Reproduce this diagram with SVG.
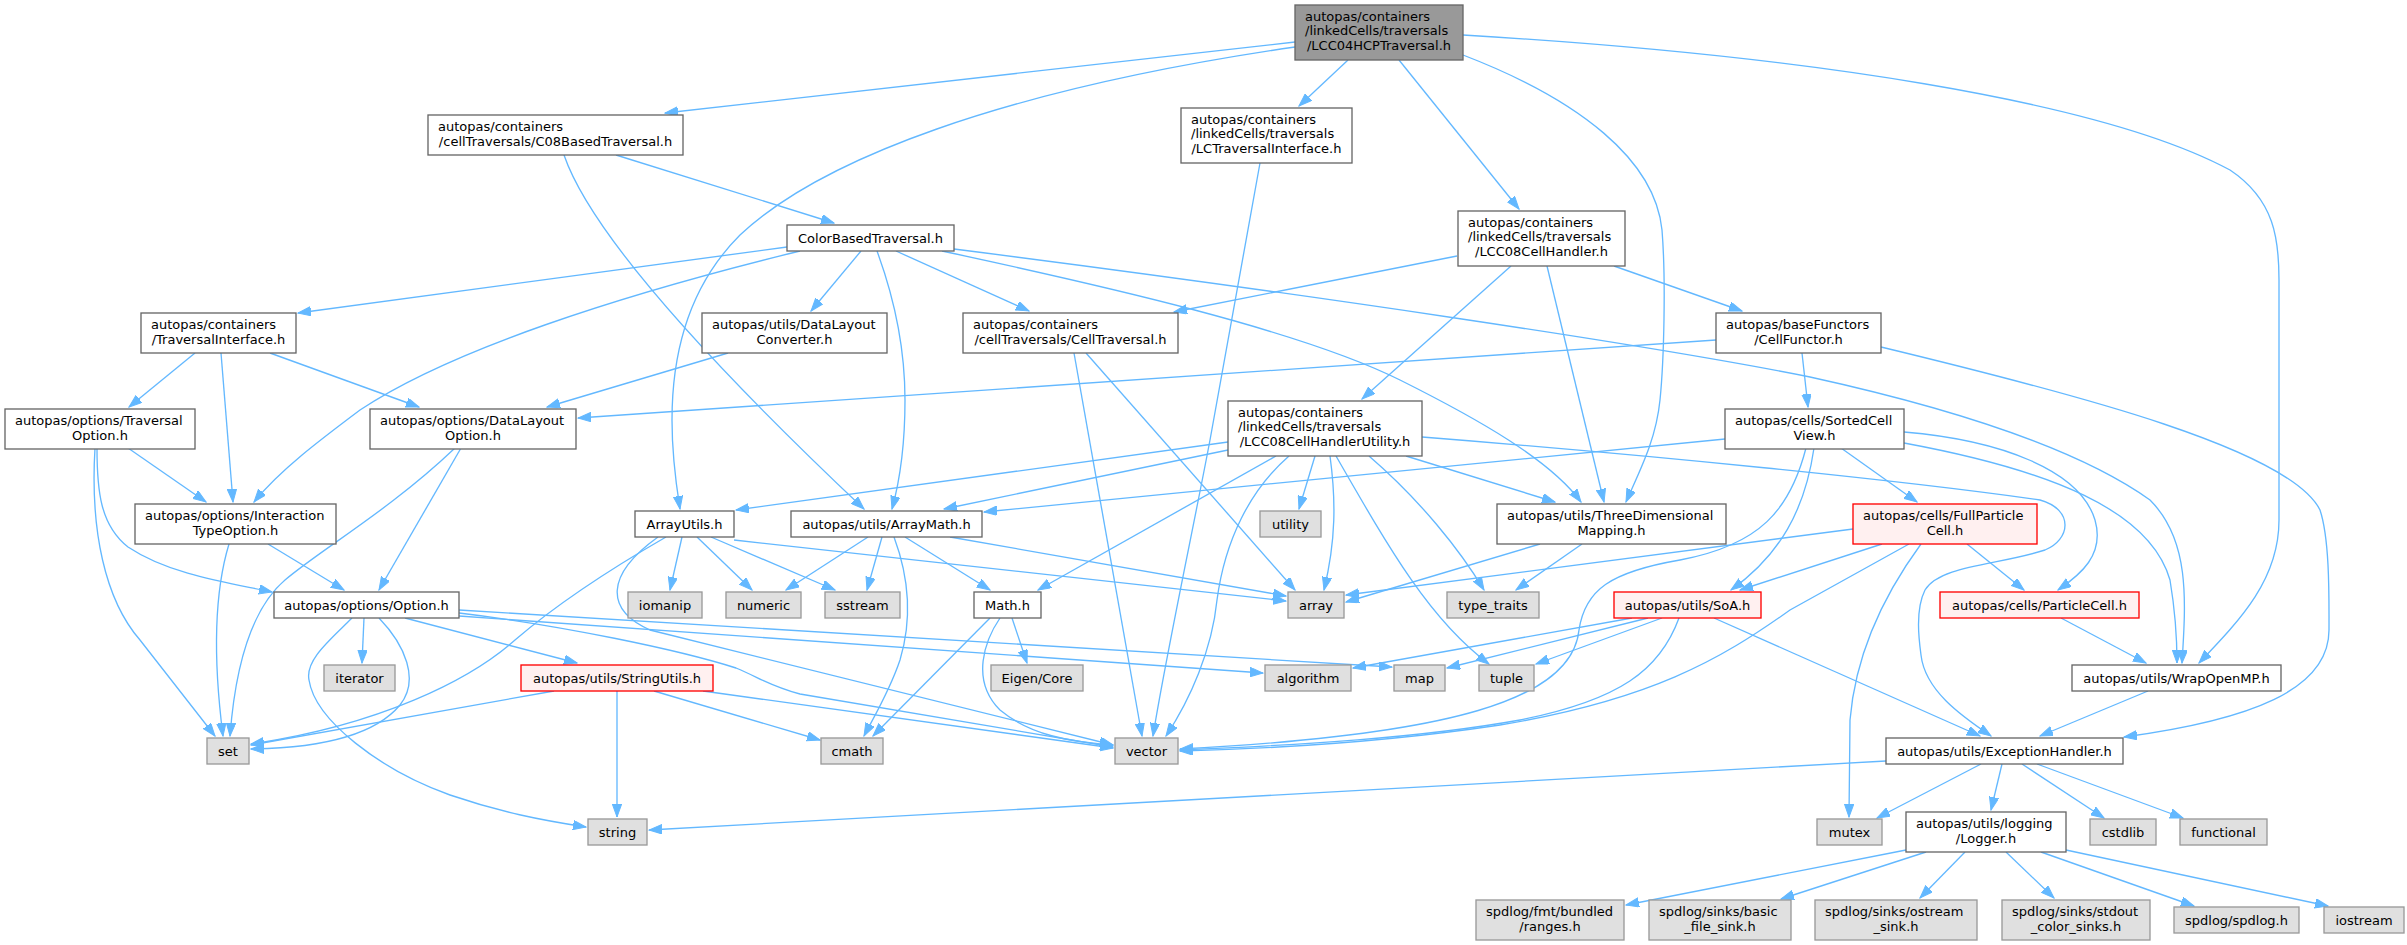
<svg xmlns="http://www.w3.org/2000/svg" width="2407" height="945" viewBox="0 0 2407 945">
<style>
rect{stroke-width:1.33}
.n rect{fill:#ffffff;stroke:#666666}
.x rect{fill:#e0e0e0;stroke:#999999}
.r rect{fill:#fff0f0;stroke:#ff0000}
.m rect{fill:#999999;stroke:#666666}
text{font-family:"DejaVu Sans","Noto Sans",sans-serif;font-size:13px;fill:#000000}
.c{text-anchor:middle}
#edges path{fill:none;stroke:#63b8ff;stroke-width:1.33;marker-end:url(#a)}
</style>
<defs>
<marker id="a" markerUnits="userSpaceOnUse" markerWidth="14" markerHeight="10" refX="13" refY="4.7" orient="auto">
<path d="M0,0 L13,4.7 L0,9.4 z" fill="#63b8ff" stroke="#63b8ff" stroke-width="1"/>
</marker>
</defs>
<rect x="0" y="0" width="2407" height="945" fill="#ffffff"/>
<g id="edges">
<path d="M1295,42 L665,113"/>
<path d="M1295,47 C1000,90 820,160 740,235 C690,285 672,350 672,420 C672,460 677,490 680,509"/>
<path d="M1348,60 L1299,106"/>
<path d="M1399,60 L1519,209"/>
<path d="M1463,55 C1580,100 1655,160 1662,230 C1666,280 1664,360 1660,400 C1656,440 1640,470 1626,502"/>
<path d="M1463,35 C1800,55 2100,100 2230,170 C2275,200 2279,240 2279,280 L2279,520 C2279,580 2240,620 2199,663"/>
<path d="M616,155 L834,223"/>
<path d="M564,155 Q600,260 864,509"/>
<path d="M787,247 L298,313"/>
<path d="M800,251 C620,295 450,350 360,410 C320,440 280,470 254,502"/>
<path d="M861,251 L811,311"/>
<path d="M877,251 C895,300 905,350 905,400 C905,440 900,480 892,509"/>
<path d="M896,251 L1029,311"/>
<path d="M942,251 C1100,285 1300,330 1400,380 C1480,420 1550,460 1581,502"/>
<path d="M954,249 C1300,293 1650,345 1810,377 C1960,410 2080,450 2150,500 C2190,540 2186,600 2182,663"/>
<path d="M195,353 L129,407"/>
<path d="M221,353 L233,502"/>
<path d="M270,353 L419,407"/>
<path d="M128,448 L206,502"/>
<path d="M97,448 C97,490 100,525 128,547 C170,575 230,583 272,592"/>
<path d="M95,448 C90,530 105,600 140,640 L215,736"/>
<path d="M461,448 L379,590"/>
<path d="M455,448 C390,510 320,550 285,580 C250,610 235,670 230,736"/>
<path d="M229,544 C215,590 212,650 223,736"/>
<path d="M268,544 L344,590"/>
<path d="M728,353 L547,407"/>
<path d="M1074,353 L1142,736"/>
<path d="M1086,353 L1295,590"/>
<path d="M1457,256 L1174,312"/>
<path d="M1511,266 L1362,399"/>
<path d="M1547,266 L1604,502"/>
<path d="M1614,266 L1742,311"/>
<path d="M1260,163 L1210,440 C1195,520 1165,660 1153,736"/>
<path d="M1716,340 L578,418"/>
<path d="M1802,353 L1808,407"/>
<path d="M1881,347 C2080,395 2290,450 2320,510 C2330,540 2329,600 2329,630 C2329,690 2250,720 2124,737"/>
<path d="M1228,442 L736,510"/>
<path d="M1228,450 L944,509"/>
<path d="M1276,456 L1038,590"/>
<path d="M1289,456 C1250,490 1225,540 1217,600 C1212,650 1190,700 1166,736"/>
<path d="M1315,456 L1299,509"/>
<path d="M1330,456 C1336,500 1336,540 1324,590"/>
<path d="M1336,456 C1390,550 1430,620 1489,664"/>
<path d="M1369,456 C1420,500 1460,550 1484,590"/>
<path d="M1406,456 L1555,502"/>
<path d="M1422,437 C1650,455 1900,480 2040,500 C2075,510 2070,540 2045,550 C2000,565 1940,565 1925,590 C1915,610 1919,640 1921,655 C1925,690 1960,715 1991,736"/>
<path d="M1540,544 L1346,602"/>
<path d="M1582,544 L1516,590"/>
<path d="M1725,439 L984,512"/>
<path d="M1814,448 C1805,510 1780,555 1731,590"/>
<path d="M1806,448 C1790,510 1760,545 1680,560 C1610,572 1585,590 1579,630 C1572,700 1450,735 1180,749"/>
<path d="M1841,448 L1917,502"/>
<path d="M1904,432 C2000,440 2080,470 2095,520 C2105,555 2080,575 2058,590"/>
<path d="M1904,443 C2050,470 2150,510 2170,580 C2175,610 2177,640 2177,663"/>
<path d="M1853,529 L1346,595"/>
<path d="M1882,544 L1740,590"/>
<path d="M1909,544 L1790,610 C1720,660 1650,700 1500,725 C1400,740 1300,748 1180,751"/>
<path d="M1921,544 C1880,600 1855,660 1850,720 L1849,817"/>
<path d="M1967,544 L2024,590"/>
<path d="M1632,618 L1353,668"/>
<path d="M1648,618 L1447,668"/>
<path d="M1662,618 L1536,664"/>
<path d="M1679,618 C1660,670 1620,700 1520,720 C1420,738 1300,745 1180,750"/>
<path d="M1714,618 L1980,736"/>
<path d="M2061,618 L2146,663"/>
<path d="M2148,691 L2040,736"/>
<path d="M1886,761 L649,830"/>
<path d="M1981,764 L1877,818"/>
<path d="M2002,764 L1991,810"/>
<path d="M2022,764 L2104,818"/>
<path d="M2037,764 L2183,818"/>
<path d="M1906,850 L1626,905"/>
<path d="M1926,852 L1781,899"/>
<path d="M1965,852 L1920,898"/>
<path d="M2006,852 L2054,898"/>
<path d="M2041,852 L2194,906"/>
<path d="M2066,850 L2328,906"/>
<path d="M554,691 L251,745"/>
<path d="M617,691 L617,817"/>
<path d="M654,691 L820,740"/>
<path d="M703,691 L1113,748"/>
<path d="M352,618 C330,640 305,660 309,680 C315,720 380,770 450,795 C500,812 540,820 586,827"/>
<path d="M364,618 L362,663"/>
<path d="M379,618 C405,645 420,680 400,705 C375,735 320,748 251,749"/>
<path d="M405,618 L577,663"/>
<path d="M459,616 L1263,673"/>
<path d="M459,610 L1392,667"/>
<path d="M459,613 C560,625 680,650 736,668 C760,678 770,686 800,694 L1113,747"/>
<path d="M666,537 C600,575 550,610 515,640 C470,680 380,725 251,744"/>
<path d="M682,537 L670,590"/>
<path d="M697,537 L752,590"/>
<path d="M711,537 L835,590"/>
<path d="M734,540 L1286,601"/>
<path d="M658,537 C605,575 605,610 650,630 L1113,745"/>
<path d="M868,537 L786,590"/>
<path d="M882,537 L867,590"/>
<path d="M894,537 C910,580 912,620 900,660 C890,690 875,715 864,736"/>
<path d="M905,537 L990,590"/>
<path d="M950,537 L1286,596"/>
<path d="M990,618 L873,736"/>
<path d="M1012,618 L1027,663"/>
<path d="M1000,618 C985,640 970,680 1000,710 C1030,735 1070,742 1113,745"/>
</g>
<g id="node-main" class="m"><rect x="1295" y="5" width="168" height="55"/><text x="1305" y="20.7">autopas/containers</text><text x="1305" y="35.4">/linkedCells/traversals</text><text class="c" x="1379" y="50">/LCC04HCPTraversal.h</text></g>
<g id="node-c08" class="n"><rect x="428" y="115" width="255" height="40"/><text x="438" y="131.3">autopas/containers</text><text class="c" x="555.5" y="146">/cellTraversals/C08BasedTraversal.h</text></g>
<g id="node-lcti" class="n"><rect x="1181" y="108" width="171" height="55"/><text x="1191" y="123.7">autopas/containers</text><text x="1191" y="138.4">/linkedCells/traversals</text><text class="c" x="1266.5" y="153">/LCTraversalInterface.h</text></g>
<g id="node-lcc08ch" class="n"><rect x="1458" y="211" width="167" height="55"/><text x="1468" y="226.7">autopas/containers</text><text x="1468" y="241.4">/linkedCells/traversals</text><text class="c" x="1541.5" y="256">/LCC08CellHandler.h</text></g>
<g id="node-colorbased" class="n"><rect x="787" y="225" width="167" height="26"/><text class="c" x="870.5" y="242.5">ColorBasedTraversal.h</text></g>
<g id="node-travif" class="n"><rect x="141" y="313" width="155" height="40"/><text x="151" y="329.3">autopas/containers</text><text class="c" x="218.5" y="344">/TraversalInterface.h</text></g>
<g id="node-dlconv" class="n"><rect x="702" y="313" width="185" height="40"/><text x="712" y="329.3">autopas/utils/DataLayout</text><text class="c" x="794.5" y="344">Converter.h</text></g>
<g id="node-celltrav" class="n"><rect x="963" y="313" width="215" height="40"/><text x="973" y="329.3">autopas/containers</text><text class="c" x="1070.5" y="344">/cellTraversals/CellTraversal.h</text></g>
<g id="node-cellfunctor" class="n"><rect x="1716" y="313" width="165" height="40"/><text x="1726" y="329.3">autopas/baseFunctors</text><text class="c" x="1798.5" y="344">/CellFunctor.h</text></g>
<g id="node-travopt" class="n"><rect x="5" y="409" width="190" height="40"/><text x="15" y="425.3">autopas/options/Traversal</text><text class="c" x="100" y="440">Option.h</text></g>
<g id="node-dlopt" class="n"><rect x="370" y="409" width="206" height="40"/><text x="380" y="425.3">autopas/options/DataLayout</text><text class="c" x="473" y="440">Option.h</text></g>
<g id="node-lcc08chu" class="n"><rect x="1228" y="401" width="194" height="55"/><text x="1238" y="416.7">autopas/containers</text><text x="1238" y="431.4">/linkedCells/traversals</text><text class="c" x="1325" y="446">/LCC08CellHandlerUtility.h</text></g>
<g id="node-sortedcellview" class="n"><rect x="1725" y="409" width="179" height="40"/><text x="1735" y="425.3">autopas/cells/SortedCell</text><text class="c" x="1814.5" y="440">View.h</text></g>
<g id="node-itopt" class="n"><rect x="135" y="504" width="201" height="40"/><text x="145" y="520.3">autopas/options/Interaction</text><text class="c" x="235.5" y="535">TypeOption.h</text></g>
<g id="node-arrayutils" class="n"><rect x="635" y="511" width="99" height="26"/><text class="c" x="684.5" y="528.5">ArrayUtils.h</text></g>
<g id="node-arraymath" class="n"><rect x="791" y="511" width="191" height="26"/><text class="c" x="886.5" y="528.5">autopas/utils/ArrayMath.h</text></g>
<g id="node-utility" class="x"><rect x="1260" y="511" width="61" height="26"/><text class="c" x="1290.5" y="528.5">utility</text></g>
<g id="node-3dmap" class="n"><rect x="1497" y="504" width="229" height="40"/><text x="1507" y="520.3">autopas/utils/ThreeDimensional</text><text class="c" x="1611.5" y="535">Mapping.h</text></g>
<g id="node-fullparticlecell" class="r"><rect x="1853" y="504" width="184" height="40"/><text x="1863" y="520.3">autopas/cells/FullParticle</text><text class="c" x="1945" y="535">Cell.h</text></g>
<g id="node-option" class="n"><rect x="274" y="592" width="185" height="26"/><text class="c" x="366.5" y="609.5">autopas/options/Option.h</text></g>
<g id="node-iomanip" class="x"><rect x="628" y="592" width="74" height="26"/><text class="c" x="665" y="609.5">iomanip</text></g>
<g id="node-numeric" class="x"><rect x="726" y="592" width="75" height="26"/><text class="c" x="763.5" y="609.5">numeric</text></g>
<g id="node-sstream" class="x"><rect x="825" y="592" width="75" height="26"/><text class="c" x="862.5" y="609.5">sstream</text></g>
<g id="node-math" class="n"><rect x="974" y="592" width="67" height="26"/><text class="c" x="1007.5" y="609.5">Math.h</text></g>
<g id="node-array" class="x"><rect x="1288" y="592" width="56" height="26"/><text class="c" x="1316" y="609.5">array</text></g>
<g id="node-typetraits" class="x"><rect x="1447" y="592" width="92" height="26"/><text class="c" x="1493" y="609.5">type_traits</text></g>
<g id="node-soa" class="r"><rect x="1614" y="592" width="147" height="26"/><text class="c" x="1687.5" y="609.5">autopas/utils/SoA.h</text></g>
<g id="node-particlecell" class="r"><rect x="1940" y="592" width="199" height="26"/><text class="c" x="2039.5" y="609.5">autopas/cells/ParticleCell.h</text></g>
<g id="node-iterator" class="x"><rect x="324" y="665" width="71" height="26"/><text class="c" x="359.5" y="682.5">iterator</text></g>
<g id="node-stringutils" class="r"><rect x="521" y="665" width="192" height="26"/><text class="c" x="617" y="682.5">autopas/utils/StringUtils.h</text></g>
<g id="node-eigen" class="x"><rect x="991" y="665" width="92" height="26"/><text class="c" x="1037" y="682.5">Eigen/Core</text></g>
<g id="node-algorithm" class="x"><rect x="1265" y="665" width="86" height="26"/><text class="c" x="1308" y="682.5">algorithm</text></g>
<g id="node-map" class="x"><rect x="1394" y="665" width="51" height="26"/><text class="c" x="1419.5" y="682.5">map</text></g>
<g id="node-tuple" class="x"><rect x="1479" y="665" width="55" height="26"/><text class="c" x="1506.5" y="682.5">tuple</text></g>
<g id="node-wrapopenmp" class="n"><rect x="2072" y="665" width="209" height="26"/><text class="c" x="2176.5" y="682.5">autopas/utils/WrapOpenMP.h</text></g>
<g id="node-set" class="x"><rect x="207" y="738" width="42" height="26"/><text class="c" x="228" y="755.5">set</text></g>
<g id="node-cmath" class="x"><rect x="821" y="738" width="62" height="26"/><text class="c" x="852" y="755.5">cmath</text></g>
<g id="node-vector" class="x"><rect x="1115" y="738" width="63" height="26"/><text class="c" x="1146.5" y="755.5">vector</text></g>
<g id="node-exception" class="n"><rect x="1886" y="738" width="237" height="26"/><text class="c" x="2004.5" y="755.5">autopas/utils/ExceptionHandler.h</text></g>
<g id="node-string" class="x"><rect x="588" y="819" width="59" height="26"/><text class="c" x="617.5" y="836.5">string</text></g>
<g id="node-mutex" class="x"><rect x="1817" y="819" width="65" height="26"/><text class="c" x="1849.5" y="836.5">mutex</text></g>
<g id="node-logger" class="n"><rect x="1906" y="812" width="160" height="40"/><text x="1916" y="828.3">autopas/utils/logging</text><text class="c" x="1986" y="843">/Logger.h</text></g>
<g id="node-cstdlib" class="x"><rect x="2090" y="819" width="66" height="26"/><text class="c" x="2123" y="836.5">cstdlib</text></g>
<g id="node-functional" class="x"><rect x="2180" y="819" width="87" height="26"/><text class="c" x="2223.5" y="836.5">functional</text></g>
<g id="node-ranges" class="x"><rect x="1476" y="900" width="148" height="40"/><text x="1486" y="916.3">spdlog/fmt/bundled</text><text class="c" x="1550" y="931">/ranges.h</text></g>
<g id="node-basicfilesink" class="x"><rect x="1649" y="900" width="142" height="40"/><text x="1659" y="916.3">spdlog/sinks/basic</text><text class="c" x="1720" y="931">_file_sink.h</text></g>
<g id="node-ostreamsink" class="x"><rect x="1815" y="900" width="162" height="40"/><text x="1825" y="916.3">spdlog/sinks/ostream</text><text class="c" x="1896" y="931">_sink.h</text></g>
<g id="node-stdoutsinks" class="x"><rect x="2002" y="900" width="148" height="40"/><text x="2012" y="916.3">spdlog/sinks/stdout</text><text class="c" x="2076" y="931">_color_sinks.h</text></g>
<g id="node-spdlog" class="x"><rect x="2174" y="907" width="125" height="26"/><text class="c" x="2236.5" y="924.5">spdlog/spdlog.h</text></g>
<g id="node-iostream" class="x"><rect x="2324" y="907" width="80" height="26"/><text class="c" x="2364" y="924.5">iostream</text></g>
</svg>
